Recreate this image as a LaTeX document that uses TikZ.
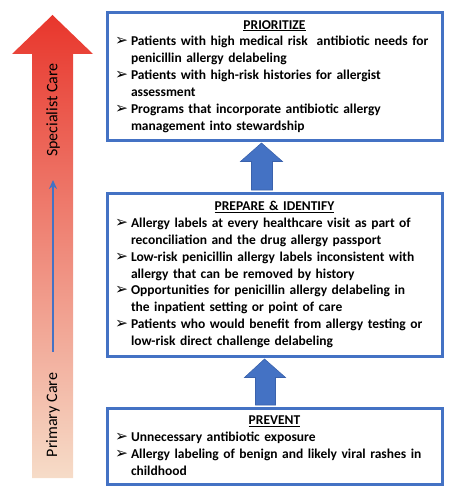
\documentclass[tikz,border=0pt]{standalone}
\usepackage{fontspec}
\setmainfont{Carlito}
\newfontfamily\dingfont{DejaVu Sans}
\usetikzlibrary{positioning,calc,arrows.meta}
\definecolor{boxblue}{HTML}{4472C4}
\definecolor{edgeblue}{HTML}{3A62AC}
\definecolor{carered}{HTML}{E8362C}
\definecolor{caremid}{HTML}{EB7C6E}
\definecolor{carepeach}{HTML}{F6DCC8}
\newcommand{\stagefont}{\bfseries\fontsize{13.5}{16.9}\selectfont}
\newcommand{\bul}[1]{\par{\leftskip=16pt\noindent\hspace*{-16pt}\makebox[16pt][l]{\dingfont\bfseries\fontsize{15.5}{12}\selectfont\char"27A2}\let\\\newline#1\par}}
\newcommand{\boxtitle}[1]{{\centering\underline{#1}\par}}

\begin{document}
\begin{tikzpicture}[
    x=1pt, y=-1pt,
    stagebox/.style={
      draw=boxblue,
      fill=white,
      line width=3pt,
      rectangle,
      text width=319pt,
      inner xsep=8pt,
      inner ysep=0pt,
      font=\stagefont
    },
    blockarrow/.style={
      fill=boxblue,
      draw=edgeblue,
      line width=0.6pt
    },
    carelabel/.style={
      rotate=90,
      font=\fontsize{16}{16}\selectfont
    }
  ]
  \useasboundingbox (0,0) rectangle (474,492);

  % care level arrow
  \shade[top color=carered, middle color=caremid, bottom color=carepeach]
    (52.5,15) -- (93,54) -- (73,54) -- (73,478) -- (32,478) -- (32,54) -- (12,54) -- cycle;
  \coordinate (low) at (53,352);
  \coordinate (high) at (53,180);
  \draw[boxblue, line width=1.6pt, -{Stealth[length=9pt, width=8pt]}] (low) -- (high);
  \node[carelabel] (spec) at (53,110) {Specialist Care};
  \node[carelabel] (prim) at (53,415) {Primary Care};

  % stages
  \node[stagebox, minimum height=127pt] (prio) at (274.5,76.5) {
    \boxtitle{PRIORITIZE}
    \bul{Patients with high medical risk\ \ antibiotic needs for\\penicillin allergy delabeling}
    \bul{Patients with high-risk histories for allergist\\assessment}
    \bul{Programs that incorporate antibiotic allergy\\management into stewardship}
  };
  \node[stagebox, minimum height=163pt, below=50pt of prio] (prep) {
    \boxtitle{PREPARE \& IDENTIFY}
    \bul{Allergy labels at every healthcare visit as part of\\reconciliation and the drug allergy passport}
    \bul{Low-risk penicillin allergy labels inconsistent with\\allergy that can be removed by history}
    \bul{Opportunities for penicillin allergy delabeling in\\the inpatient setting or point of care}
    \bul{Patients who would benefit from allergy testing or\\low-risk direct challenge delabeling}
  };
  \node[stagebox, minimum height=76pt, below=49pt of prep] (prev) {
    \boxtitle{PREVENT}
    \bul{Unnecessary antibiotic exposure}
    \bul{Allergy labeling of benign and likely viral rashes in\\childhood}
  };

  % arrows between stages
  \filldraw[blockarrow] ($(prep.north)+(-23,-1.5)$) -- ($(prep.north)+(-23,-30)$) -- ($(prep.north)+(-34,-30)$)
    -- ($(prio.south)+(-13,1.5)$) -- ($(prep.north)+(8,-30)$) -- ($(prep.north)+(-2,-30)$) -- ($(prep.north)+(-2,-1.5)$) -- cycle;
  \filldraw[blockarrow] ($(prev.north)+(-19,-1.5)$) -- ($(prev.north)+(-19,-29)$) -- ($(prev.north)+(-30,-29)$)
    -- ($(prep.south)+(-10,1.5)$) -- ($(prev.north)+(11,-29)$) -- ($(prev.north)+(1,-29)$) -- ($(prev.north)+(1,-1.5)$) -- cycle;
\end{tikzpicture}
\end{document}
